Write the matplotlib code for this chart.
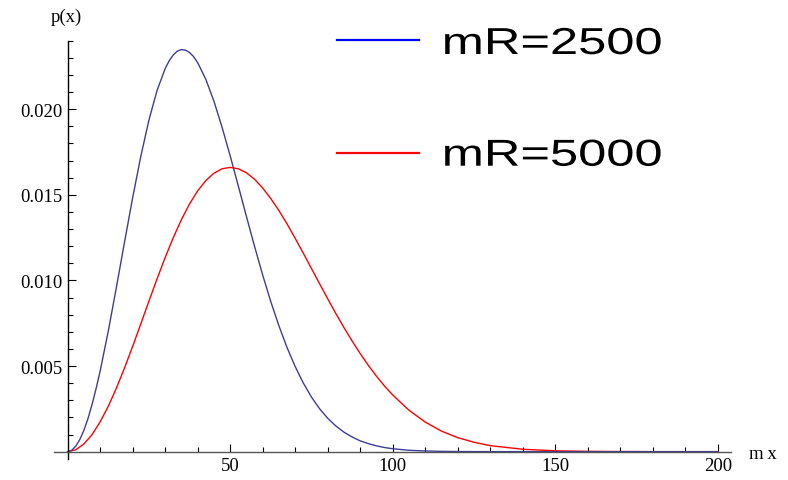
import matplotlib
matplotlib.use("Agg")
import matplotlib.pyplot as plt
from matplotlib.lines import Line2D
from matplotlib.patches import PathPatch
from matplotlib.textpath import TextPath
from matplotlib.font_manager import FontProperties
from matplotlib.transforms import Affine2D, IdentityTransform
from matplotlib.ticker import FixedLocator, FuncFormatter

# curve values
x_blue = [0, 1.25, 2.5, 3.75, 5, 6.25, 7.5, 8.75, 10, 12.5, 15, 17.5, 20, 22.5, 25,
          27.5, 30, 31.25, 32.5, 33.75, 35, 36.25, 37.5, 38.75, 40, 42.5, 45, 47.5,
          50, 52.5, 55, 57.5, 60, 62.5, 65, 67.5, 70, 72.5, 75, 77.5, 80, 82.5, 85,
          87.5, 90, 92.5, 95, 97.5, 100, 105, 110, 115, 120, 130, 140, 150, 160,
          170, 180, 190, 200]
p_blue = [0, 0.00008, 0.00032, 0.00071, 0.00125, 0.00193, 0.00275, 0.00368, 0.00471,
          0.00704, 0.00960, 0.01224, 0.01483, 0.01724, 0.01936, 0.02109, 0.02237,
          0.02283, 0.02317, 0.02339, 0.02348, 0.02345, 0.02331, 0.02307, 0.02272,
          0.02175, 0.02047, 0.01895, 0.01728, 0.01552, 0.01374, 0.01199, 0.01032,
          0.00876, 0.00735, 0.00608, 0.00497, 0.00401, 0.00319, 0.00251, 0.00195,
          0.00150, 0.00114, 0.00086, 0.00063, 0.00047, 0.00034, 0.00024, 0.00017,
          0.00008, 0.00004, 0.000017, 0.000007, 0, 0, 0, 0, 0, 0, 0, 0]

x_red = [0, 2.5, 5, 7.5, 10, 12.5, 15, 17.5, 20, 22.5, 25, 27.5, 30, 32.5, 35, 37.5,
         40, 42.5, 45, 47.5, 50, 52.5, 55, 57.5, 60, 62.5, 65, 67.5, 70, 72.5, 75,
         77.5, 80, 82.5, 85, 87.5, 90, 92.5, 95, 97.5, 100, 105, 110, 115, 120, 125,
         130, 140, 150, 160, 170, 180, 190, 200]
p_red = [0, 0.00011, 0.00045, 0.00099, 0.00174, 0.00265, 0.00371, 0.00489, 0.00615,
         0.00746, 0.00879, 0.01009, 0.01134, 0.01250, 0.01355, 0.01447, 0.01523,
         0.01583, 0.01626, 0.01652, 0.01660, 0.01652, 0.01629, 0.01591, 0.01540,
         0.01478, 0.01408, 0.01330, 0.01246, 0.01159, 0.01070, 0.00981, 0.00893,
         0.00807, 0.00725, 0.00647, 0.00573, 0.00504, 0.00441, 0.00383, 0.00331,
         0.00242, 0.00173, 0.00120, 0.00082, 0.00055, 0.00035, 0.00014, 0.00005,
         0.000017, 0.000005, 0, 0, 0]

labels = ["mR=2500", "mR=5000"]
x_major = [50, 100, 150, 200]
x_minor = [v for v in range(10, 200, 10) if v % 50 != 0]
y_major = [0.005, 0.010, 0.015, 0.020]
y_minor = [0.001, 0.002, 0.003, 0.004, 0.006, 0.007, 0.008, 0.009, 0.011, 0.012,
           0.013, 0.014, 0.016, 0.017, 0.018, 0.019, 0.021, 0.022, 0.023, 0.024]

W, H = 788, 481
fig = plt.figure(figsize=(W / 100, H / 100), dpi=100)
ax = fig.add_axes([54 / W, 1 - 459.5 / H, 676.7 / W, 417.8 / H])
ax.patch.set_visible(False)

ax.plot(x_red, p_red, color="#ff0000", lw=1.0, solid_joinstyle="round")
ax.plot(x_blue, p_blue, color="#3d3d99", lw=1.0, solid_joinstyle="round")

ax.set_xlim(-4.2, 204)
ax.set_ylim(-0.0004, 0.024)

for s in ["top", "right"]:
    ax.spines[s].set_visible(False)
ax.spines["left"].set_position(("data", 0))
ax.spines["bottom"].set_position(("data", 0))
ax.spines["left"].set_color("black")
ax.spines["bottom"].set_color("#555555")
ax.spines["left"].set_linewidth(1.0)
ax.spines["bottom"].set_linewidth(1.0)

ax.xaxis.set_major_locator(FixedLocator(x_major))
ax.xaxis.set_minor_locator(FixedLocator(x_minor))
ax.yaxis.set_major_locator(FixedLocator(y_major))
ax.yaxis.set_minor_locator(FixedLocator(y_minor))
ax.yaxis.set_major_formatter(FuncFormatter(lambda v, p: f"{v:.3f}"))

ax.tick_params(which="both", direction="in", colors="black", width=0.8)
ax.tick_params(which="major", length=5.8, pad=4)
ax.tick_params(which="minor", length=3.4)
for t in ax.get_xticklabels() + ax.get_yticklabels():
    t.set_family("Liberation Serif")
    t.set_fontsize(13.5)

fig.text(66 / W, 1 - 17 / H, "p(x)", family="Liberation Serif", fontsize=13.5,
         ha="center", va="center")
fig.text(749 / W, 1 - 455 / H, "m\u2009x", family=["Liberation Serif", "DejaVu Serif"],
         fontsize=13.5, ha="left", va="center")

# legend drawn by hand; the text in the picture is stretched sideways
fp = FontProperties(family="Liberation Sans")
for lab, col, ly, ty in [(labels[0], "#0000ff", 41, 55), (labels[1], "#ff0000", 154.3, 166.7)]:
    fig.add_artist(Line2D([337 / W, 419 / W], [1 - ly / H, 1 - ly / H],
                          transform=fig.transFigure, color=col, lw=1.6))
    tp = TextPath((0, 0), lab, size=37.5, prop=fp)
    tr = Affine2D().scale(1.35, 1.0).translate(441.7, H - ty) + IdentityTransform()
    fig.add_artist(PathPatch(tp, transform=tr, facecolor="black", lw=0))

fig.savefig("out.png", dpi=100)
